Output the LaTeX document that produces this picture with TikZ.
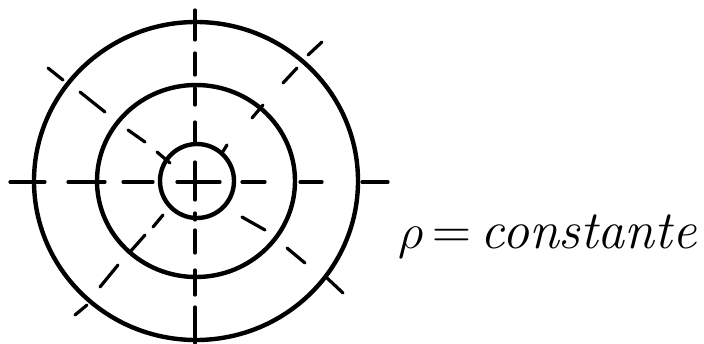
\documentclass[tikz,border=0pt]{standalone}
\usepackage{amsmath}
\usepackage{tikz}
\usetikzlibrary{calc}

\begin{document}
\begin{tikzpicture}[x=0.5pt,y=-0.5pt,
  ring/.style={line width=2.2pt,black},
  dsh/.style={line width=1.6pt,black,line cap=round}]
  \useasboundingbox (0,0) rectangle (704,343);
  % circles
  \draw[ring] (196,181) ellipse [x radius=162,y radius=159];
  \draw[ring] (196,181) ellipse [x radius=99,y radius=96];
  \draw[ring] (197,181) circle [radius=37];
  % centre cross
  \draw[dsh] (177,182) -- (220,182);
  \draw[dsh] (195,162) -- (195,200);
  % horizontal axis
  \foreach \a/\b in {10/45,68/105,123/153,242/265,300/322,362/388}
    \draw[dsh] (\a,182) -- (\b,182);
  % vertical axis
  \foreach \a/\b in {10/40,53/75,88/105,122/142,213/220,230/253,270/295,307/343}
    \draw[dsh] (195,\a) -- (195,\b);
  % diagonals
  \foreach \xa/\ya/\xb/\yb in {48/68/63/80,80/92/105/112,128/130/145/142,157/152/170/163,
                     242/217/265/230,287/248/305/263,327/278/343/293,
                     322/42/308/55,297/68/283/83,263/105/252/118,227/145/222/153,
                     163/215/153/227,145/235/130/252,118/265/100/287,87/305/75/315}
    \draw[dsh] (\xa,\ya) -- (\xb,\yb);
  % label
  \node[anchor=base west,inner sep=0pt,font=\fontsize{27}{29}\selectfont] (lbl) at (398,248)
    {$\rho$\,=\,\textit{constante}};
\end{tikzpicture}
\end{document}
